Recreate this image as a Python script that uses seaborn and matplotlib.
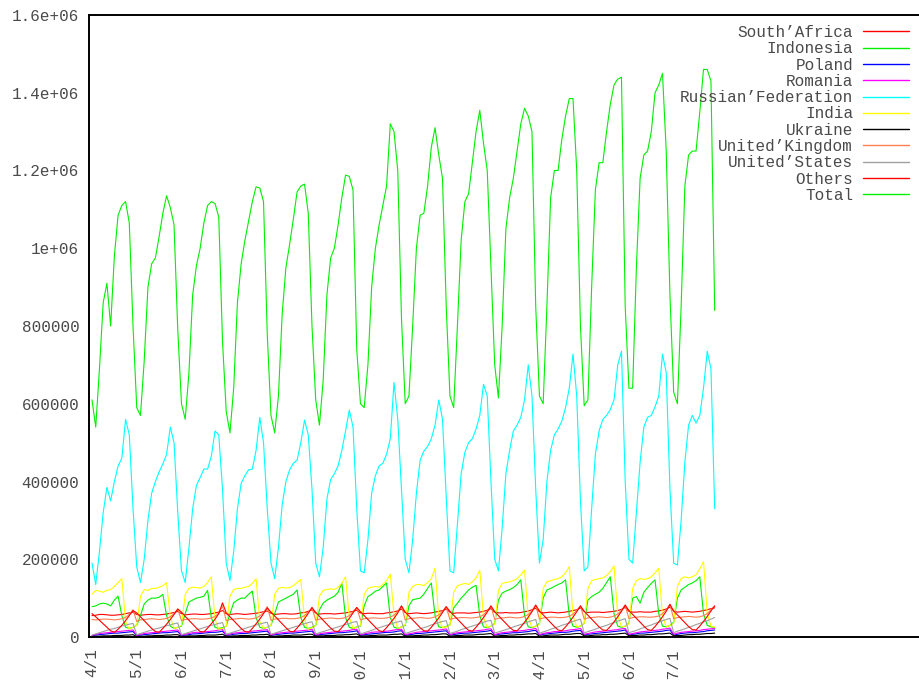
import numpy as np
import pandas as pd
import matplotlib
matplotlib.use("Agg")
import matplotlib.pyplot as plt
import seaborn as sns

# ---------------- data (thousands, monthly Jan 2004 - Dec 2017) ----------------
years = list(range(2004, 2018))
x_tick_years = list(range(2004, 2018))
x_tick_labels = ["4/1", "5/1", "6/1", "7/1", "8/1", "9/1", "10/1", "11/1",
                 "12/1", "13/1", "14/1", "15/1", "16/1", "17/1"]
y_tick_values = [0, 200000, 400000, 600000, 800000, 1000000, 1200000, 1400000, 1600000]
y_tick_labels = ["0", "200000", "400000", "600000", "800000", "1e+06",
                 "1.2e+06", "1.4e+06", "1.6e+06"]

south_africa = [
    [55, 56, 58, 58, 57, 56, 56, 57, 58, 60, 62, 64],
    [58, 56, 57, 58, 58, 57, 57, 58, 59, 61, 63, 66],
    [60, 57, 58, 59, 59, 58, 58, 59, 60, 62, 64, 68],
    [60, 58, 59, 60, 59, 58, 59, 60, 61, 63, 65, 67],
    [61, 58, 59, 60, 60, 59, 59, 60, 62, 63, 66, 70],
    [62, 59, 60, 60, 60, 59, 60, 61, 62, 64, 66, 69],
    [62, 60, 61, 61, 60, 60, 60, 62, 63, 65, 67, 72],
    [63, 60, 61, 62, 61, 60, 61, 62, 64, 66, 68, 72],
    [64, 61, 62, 62, 62, 61, 62, 63, 64, 66, 69, 73],
    [64, 62, 62, 63, 62, 62, 62, 63, 65, 67, 70, 74],
    [65, 62, 63, 64, 63, 62, 63, 64, 66, 68, 70, 75],
    [66, 63, 64, 64, 64, 63, 64, 65, 66, 68, 71, 76],
    [66, 64, 64, 65, 64, 64, 64, 66, 67, 69, 72, 77],
    [67, 64, 65, 66, 65, 64, 65, 66, 68, 70, 73, 75],
]
indonesia = [
    [78, 80, 85, 87, 85, 80, 95, 105, 55, 25, 22, 25],
    [30, 55, 85, 95, 100, 100, 102, 110, 55, 28, 22, 25],
    [28, 60, 90, 95, 100, 102, 105, 120, 50, 25, 22, 24],
    [28, 60, 88, 95, 100, 100, 110, 118, 50, 25, 22, 25],
    [30, 60, 90, 95, 100, 105, 110, 121, 50, 25, 22, 25],
    [30, 70, 87, 95, 100, 105, 115, 139, 50, 25, 22, 26],
    [28, 80, 104, 110, 118, 121, 130, 139, 50, 25, 22, 26],
    [30, 80, 96, 98, 100, 110, 125, 139, 55, 26, 24, 27],
    [32, 75, 87, 100, 110, 121, 128, 133, 55, 26, 24, 28],
    [35, 95, 113, 118, 122, 127, 135, 147, 55, 26, 24, 28],
    [35, 100, 121, 125, 130, 135, 139, 147, 55, 28, 25, 28],
    [35, 95, 104, 110, 115, 125, 140, 155, 60, 28, 25, 28],
    [36, 100, 104, 87, 115, 127, 138, 147, 60, 28, 26, 30],
    [38, 100, 121, 128, 135, 139, 145, 155, 60, 30, 26, 25],
]
poland = [
    [3, 5, 6, 7, 8, 9, 10, 10, 11, 12, 13, 14],
    [3, 5, 6, 7, 8, 9, 10, 11, 11, 12, 13, 14],
    [3, 5, 6, 8, 8, 9, 10, 11, 12, 12, 13, 15],
    [4, 5, 7, 8, 9, 9, 10, 11, 12, 13, 14, 15],
    [4, 6, 7, 8, 9, 10, 10, 11, 12, 13, 14, 15],
    [4, 6, 7, 8, 9, 10, 11, 11, 12, 13, 14, 16],
    [4, 6, 7, 8, 9, 10, 11, 12, 12, 13, 15, 16],
    [4, 6, 7, 9, 9, 10, 11, 12, 13, 14, 15, 16],
    [5, 6, 8, 9, 10, 10, 11, 12, 13, 14, 15, 17],
    [5, 7, 8, 9, 10, 11, 11, 12, 13, 14, 16, 17],
    [5, 7, 8, 9, 10, 11, 12, 12, 13, 15, 16, 17],
    [5, 7, 8, 9, 10, 11, 12, 13, 14, 15, 16, 18],
    [5, 7, 8, 10, 10, 11, 12, 13, 14, 15, 17, 18],
    [5, 7, 9, 10, 11, 11, 12, 13, 14, 16, 17, 18],
]
romania = [
    [4, 7, 9, 10, 11, 12, 13, 14, 15, 16, 17, 18],
    [4, 7, 9, 10, 11, 12, 13, 14, 15, 16, 17, 18],
    [5, 7, 9, 11, 12, 12, 13, 14, 15, 16, 18, 19],
    [5, 8, 10, 11, 12, 13, 14, 15, 16, 17, 18, 19],
    [5, 8, 10, 11, 12, 13, 14, 15, 16, 17, 18, 20],
    [5, 8, 10, 11, 12, 13, 14, 15, 16, 17, 19, 20],
    [6, 8, 10, 12, 13, 13, 14, 15, 16, 18, 19, 20],
    [6, 8, 10, 12, 13, 14, 15, 16, 17, 18, 19, 21],
    [6, 9, 11, 12, 13, 14, 15, 16, 17, 18, 20, 21],
    [6, 9, 11, 12, 13, 14, 15, 16, 17, 19, 20, 22],
    [6, 9, 11, 12, 14, 14, 15, 16, 18, 19, 20, 22],
    [7, 9, 11, 13, 14, 15, 16, 17, 18, 19, 21, 22],
    [7, 9, 11, 13, 14, 15, 16, 17, 18, 20, 21, 23],
    [7, 10, 12, 13, 14, 15, 16, 17, 19, 20, 21, 22],
]
russia = [
    [190, 135, 220, 320, 385, 350, 400, 440, 460, 560, 520, 330],
    [180, 140, 200, 300, 370, 400, 425, 445, 470, 540, 500, 320],
    [170, 140, 230, 330, 390, 410, 432, 432, 465, 530, 520, 380],
    [190, 145, 220, 330, 395, 415, 430, 432, 480, 565, 500, 330],
    [190, 150, 230, 340, 400, 430, 447, 455, 500, 558, 520, 380],
    [190, 155, 230, 355, 405, 420, 440, 480, 530, 584, 540, 330],
    [170, 165, 250, 370, 415, 440, 447, 470, 510, 655, 560, 380],
    [200, 165, 250, 370, 455, 478, 490, 510, 545, 610, 560, 360],
    [170, 165, 290, 420, 475, 500, 510, 535, 570, 650, 620, 400],
    [200, 170, 280, 420, 480, 530, 545, 565, 610, 700, 620, 380],
    [190, 250, 400, 480, 520, 535, 555, 590, 640, 728, 620, 350],
    [170, 180, 330, 470, 530, 560, 570, 585, 610, 700, 735, 400],
    [200, 190, 320, 450, 540, 565, 570, 592, 620, 728, 680, 380],
    [190, 185, 300, 450, 545, 570, 550, 570, 640, 735, 690, 330],
]
india = [
    [110, 120, 118, 115, 120, 122, 130, 140, 150, 40, 20, 25],
    [30, 105, 122, 120, 125, 125, 128, 132, 140, 50, 22, 25],
    [30, 110, 125, 128, 127, 126, 130, 140, 155, 45, 20, 22],
    [28, 105, 122, 125, 125, 128, 130, 138, 150, 40, 22, 25],
    [30, 110, 125, 128, 126, 127, 132, 140, 148, 45, 20, 24],
    [30, 105, 120, 122, 124, 122, 128, 138, 155, 50, 22, 25],
    [30, 110, 125, 128, 130, 128, 135, 145, 162, 55, 22, 26],
    [32, 115, 130, 135, 135, 132, 140, 150, 177, 50, 24, 26],
    [30, 115, 132, 135, 138, 135, 142, 152, 172, 50, 24, 28],
    [32, 120, 138, 140, 142, 145, 150, 160, 172, 50, 25, 28],
    [32, 125, 142, 145, 148, 150, 155, 165, 181, 55, 26, 28],
    [35, 125, 145, 148, 150, 152, 158, 168, 183, 55, 26, 28],
    [34, 125, 145, 150, 148, 150, 155, 165, 177, 55, 26, 30],
    [35, 130, 150, 155, 152, 155, 160, 175, 194, 60, 28, 25],
]
ukraine = [
    [1, 2, 2, 3, 3, 3, 4, 4, 4, 5, 5, 6],
    [1, 2, 2, 3, 3, 4, 4, 4, 5, 5, 6, 6],
    [1, 2, 3, 3, 3, 4, 4, 5, 5, 5, 6, 7],
    [2, 2, 3, 3, 4, 4, 4, 5, 5, 6, 6, 7],
    [2, 2, 3, 3, 4, 4, 5, 5, 5, 6, 7, 7],
    [2, 3, 3, 4, 4, 4, 5, 5, 6, 6, 7, 8],
    [2, 3, 3, 4, 4, 5, 5, 5, 6, 7, 7, 8],
    [2, 3, 3, 4, 4, 5, 5, 6, 6, 7, 8, 8],
    [2, 3, 4, 4, 5, 5, 5, 6, 7, 7, 8, 9],
    [2, 3, 4, 4, 5, 5, 6, 6, 7, 8, 8, 9],
    [2, 3, 4, 5, 5, 5, 6, 7, 7, 8, 9, 9],
    [3, 3, 4, 5, 5, 6, 6, 7, 7, 8, 9, 10],
    [3, 4, 4, 5, 5, 6, 6, 7, 8, 8, 9, 10],
    [3, 4, 4, 5, 6, 6, 7, 7, 8, 9, 9, 10],
]
united_kingdom = [
    [45, 44, 45, 46, 46, 45, 44, 45, 47, 50, 58, 70],
    [40, 44, 45, 46, 47, 46, 45, 46, 48, 52, 60, 72],
    [42, 45, 46, 47, 47, 46, 46, 47, 49, 53, 62, 80],
    [42, 45, 46, 47, 48, 47, 46, 47, 49, 54, 63, 78],
    [43, 46, 47, 48, 48, 47, 47, 48, 50, 55, 64, 75],
    [43, 46, 47, 48, 49, 48, 47, 48, 50, 55, 65, 76],
    [44, 47, 48, 49, 49, 48, 48, 49, 51, 56, 66, 80],
    [44, 47, 48, 49, 50, 49, 48, 49, 52, 57, 66, 78],
    [45, 48, 49, 50, 50, 49, 49, 50, 52, 57, 67, 80],
    [45, 48, 49, 50, 51, 50, 49, 50, 53, 58, 68, 82],
    [46, 49, 50, 51, 51, 50, 50, 51, 53, 59, 68, 80],
    [46, 49, 50, 51, 52, 51, 50, 51, 54, 59, 69, 82],
    [47, 50, 51, 52, 52, 51, 51, 52, 54, 60, 70, 84],
    [47, 50, 51, 52, 53, 52, 51, 52, 55, 60, 70, 80],
]
united_states = [
    [5, 8, 11, 14, 17, 20, 22, 25, 28, 30, 33, 35],
    [6, 9, 12, 15, 18, 21, 23, 26, 29, 31, 34, 36],
    [6, 9, 12, 15, 18, 21, 24, 27, 30, 32, 35, 37],
    [7, 10, 13, 16, 19, 22, 25, 28, 31, 33, 36, 38],
    [7, 10, 13, 16, 19, 22, 25, 28, 31, 34, 37, 39],
    [8, 11, 14, 17, 20, 23, 26, 29, 32, 35, 38, 40],
    [8, 11, 14, 17, 21, 24, 27, 30, 33, 36, 39, 41],
    [9, 12, 15, 18, 21, 24, 27, 31, 34, 37, 40, 42],
    [9, 12, 15, 19, 22, 25, 28, 31, 35, 38, 41, 43],
    [10, 13, 16, 19, 22, 26, 29, 32, 35, 39, 42, 45],
    [10, 13, 16, 20, 23, 26, 30, 33, 36, 40, 43, 46],
    [10, 14, 17, 20, 24, 27, 30, 34, 37, 41, 44, 47],
    [11, 14, 17, 21, 24, 28, 31, 35, 38, 42, 45, 48],
    [11, 15, 18, 21, 25, 28, 32, 35, 39, 42, 46, 50],
]
others = [
    [60, 52, 43, 34, 25, 16, 12, 20, 30, 42, 55, 68],
    [62, 52, 42, 32, 22, 14, 12, 22, 33, 45, 58, 72],
    [64, 53, 43, 33, 23, 14, 13, 23, 34, 46, 60, 88],
    [62, 52, 42, 32, 22, 14, 12, 22, 34, 46, 60, 75],
    [64, 54, 44, 34, 24, 15, 13, 23, 35, 47, 61, 76],
    [63, 53, 43, 33, 23, 15, 14, 24, 36, 48, 62, 76],
    [65, 55, 45, 35, 25, 16, 14, 24, 36, 48, 62, 80],
    [64, 54, 44, 34, 24, 16, 15, 25, 37, 49, 63, 78],
    [66, 56, 46, 36, 26, 17, 15, 25, 37, 50, 64, 80],
    [65, 55, 45, 35, 25, 17, 16, 26, 38, 51, 65, 82],
    [67, 57, 47, 37, 27, 18, 16, 26, 38, 51, 65, 80],
    [66, 56, 46, 36, 26, 18, 17, 27, 39, 52, 66, 82],
    [68, 58, 48, 38, 28, 19, 17, 27, 39, 52, 66, 84],
    [67, 57, 47, 37, 27, 19, 18, 28, 40, 53, 67, 80],
]
total = [
    [610, 540, 690, 860, 910, 800, 980, 1085, 1110, 1120, 1065, 800],
    [590, 570, 710, 900, 960, 975, 1030, 1090, 1135, 1105, 1060, 790],
    [600, 560, 680, 880, 955, 1000, 1065, 1110, 1120, 1115, 1080, 760],
    [580, 525, 640, 860, 960, 1020, 1070, 1120, 1158, 1155, 1120, 780],
    [570, 525, 620, 830, 950, 1010, 1075, 1145, 1160, 1165, 1090, 800],
    [610, 545, 660, 880, 975, 1000, 1060, 1130, 1188, 1185, 1150, 740],
    [600, 590, 700, 900, 1000, 1060, 1110, 1160, 1320, 1300, 1200, 820],
    [600, 620, 800, 1000, 1085, 1090, 1160, 1260, 1310, 1240, 1180, 850],
    [620, 590, 800, 1020, 1120, 1140, 1220, 1300, 1355, 1270, 1200, 950],
    [700, 615, 800, 1050, 1130, 1180, 1250, 1320, 1360, 1340, 1300, 850],
    [620, 600, 850, 1130, 1200, 1200, 1280, 1340, 1385, 1385, 1200, 800],
    [595, 610, 900, 1150, 1220, 1220, 1300, 1370, 1420, 1435, 1440, 850],
    [640, 640, 950, 1180, 1240, 1250, 1300, 1400, 1420, 1450, 1250, 880],
    [630, 600, 850, 1160, 1240, 1250, 1250, 1350, 1460, 1460, 1430, 840],
]

series_names = ["South\u2019Africa", "Indonesia", "Poland", "Romania",
                "Russian\u2019Federation", "India", "Ukraine",
                "United\u2019Kingdom", "United\u2019States", "Others", "Total"]
series_data = [south_africa, indonesia, poland, romania, russia, india,
               ukraine, united_kingdom, united_states, others, total]
series_colors = ["#ff0000", "#00f000", "#0000ff", "#ff00ff", "#00ffff",
                 "#ffff00", "#000000", "#ff7f50", "#a0a0a0", "#ff0000", "#00f000"]

# ---------------- build long table ----------------
t = np.array([y + m / 12.0 for y in years for m in range(12)])
frames = []
for name, rows in zip(series_names, series_data):
    vals = np.array(rows, dtype=float).ravel() * 1000.0
    frames.append(pd.DataFrame({"t": t, "value": vals, "series": name}))
df = pd.concat(frames, ignore_index=True)

# ---------------- style ----------------
sns.set_style("white")
plt.rcParams["font.family"] = ["Liberation Mono", "DejaVu Sans"]
text_color = "#4a4a4a"
fs = 11.5

fig = plt.figure(figsize=(9.19, 6.80), dpi=100)
ax = fig.add_axes([89 / 919, 43 / 680, 830 / 919, 622 / 680])

sns.lineplot(data=df, x="t", y="value", hue="series", hue_order=series_names,
             palette=dict(zip(series_names, series_colors)), linewidth=0.8,
             estimator=None, sort=False, ax=ax, legend=True)

ax.set_xlim(2004 - 3 / 44.69, 2004 + 826 / 44.69)
ax.set_ylim(0, 1600000)
ax.set_xticks(x_tick_years)
ax.set_xticklabels(x_tick_labels, rotation=90, fontsize=fs, color=text_color)
ax.set_yticks(y_tick_values)
ax.set_yticklabels(y_tick_labels, fontsize=fs, color=text_color)
ax.set_xlabel("")
ax.set_ylabel("")
ax.tick_params(axis="both", direction="in", length=6, width=1.0, color="black")
ax.tick_params(axis="y", pad=7)
ax.tick_params(axis="x", pad=8)
for s in ["left", "bottom", "top"]:
    ax.spines[s].set_visible(True)
    ax.spines[s].set_color("black")
    ax.spines[s].set_linewidth(1.4)
ax.spines["right"].set_visible(False)

handles, labels = ax.get_legend_handles_labels()
leg = ax.legend(handles, labels, loc="upper right",
                bbox_to_anchor=((909 - 89) / 830, (637 - 25) / 622),
                markerfirst=False, frameon=False, fontsize=fs,
                handlelength=2.9, handletextpad=0.6, labelspacing=0.08,
                borderaxespad=0, borderpad=0)
for txt in leg.get_texts():
    txt.set_color(text_color)
for h in leg.get_lines():
    h.set_linewidth(1.0)

fig.savefig("out.png", dpi=100)
